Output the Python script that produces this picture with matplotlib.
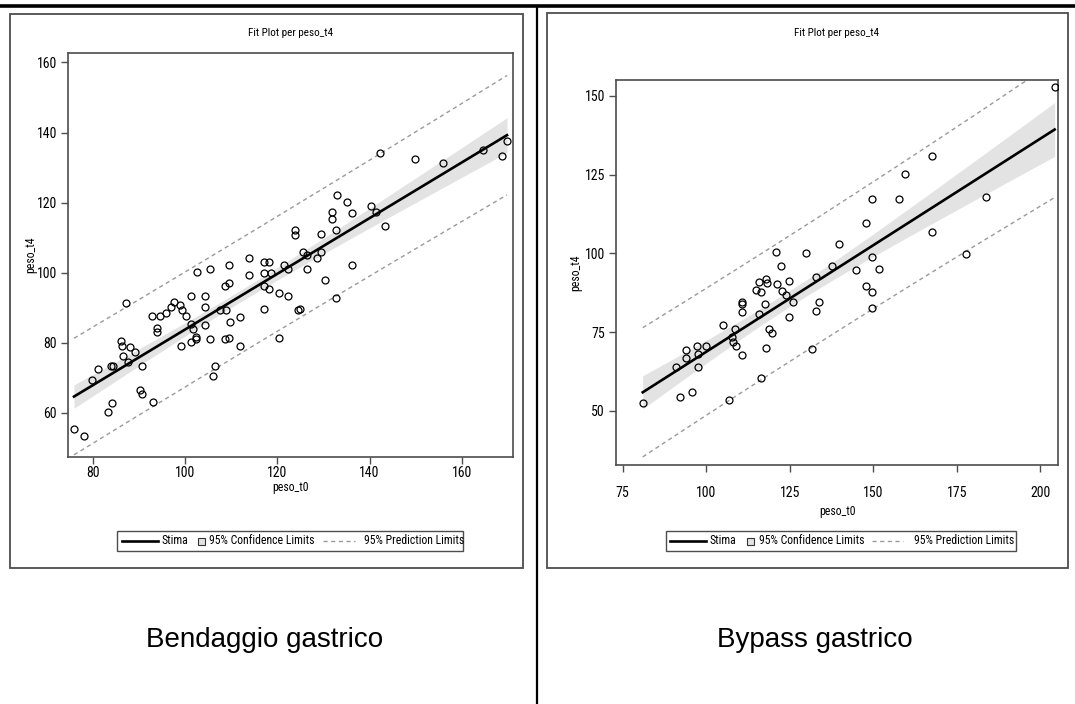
import numpy as np
import matplotlib
matplotlib.use("Agg")
import matplotlib.pyplot as plt
from matplotlib.lines import Line2D
from matplotlib.patches import Rectangle

plt.rcParams['font.family'] = ['Roboto Condensed', 'Liberation Sans', 'DejaVu Sans']

# --- Bendaggio gastrico: peso a t0 e a t4 ---
band_t0 = [75.9, 78.0, 79.7, 81.1, 83.2, 84.1, 84.0, 84.4, 87.1, 86.2, 86.4, 86.5, 87.6, 88.1,
           89.2, 90.7, 90.3, 90.6, 93.0, 92.8, 93.8, 94.0, 94.5, 95.9, 96.9, 97.6, 98.8, 99.4,
           100.1, 99.0, 101.3, 101.3, 101.7, 101.3, 102.3, 102.4, 102.5, 104.4, 104.4, 104.4,
           105.5, 105.5, 106.1, 106.5, 107.6, 108.6, 108.9, 109.6, 109.6, 109.7, 108.6, 109.6,
           111.8, 111.8, 113.8, 113.8, 117.1, 118.2, 117.1, 117.1, 118.6, 118.1, 117.1, 120.3,
           120.3, 121.4, 122.4, 122.4, 124.4, 124.9, 125.5, 126.5, 126.5, 128.5, 129.5, 130.3,
           132.8, 136.1, 129.4, 132.8, 131.8, 131.9, 133.0, 135.1, 136.1, 140.3, 141.4, 143.4,
           142.3, 149.8, 156.0, 164.6, 168.7, 169.8, 123.8, 123.8]
band_t4 = [55.3, 53.3, 69.3, 72.4, 60.2, 62.9, 73.3, 73.3, 91.4, 80.4, 79.1, 76.3, 74.4, 78.9,
           77.3, 73.3, 66.6, 65.3, 63.1, 87.6, 84.2, 83.1, 87.6, 88.5, 90.3, 91.7, 90.7, 89.4,
           87.6, 79.1, 93.3, 85.3, 83.9, 80.2, 81.1, 81.7, 100.1, 93.3, 90.3, 85.0,
           101.1, 81.0, 70.5, 73.3, 89.3, 96.2, 89.3, 97.1, 102.1, 85.8, 81.0, 81.3,
           87.3, 79.1, 104.1, 99.3, 103.1, 103.1, 99.8, 96.2, 99.8, 95.3, 89.6, 94.3,
           81.3, 102.2, 101.0, 93.3, 89.4, 89.6, 106.0, 105.1, 101.1, 104.1, 106.0, 97.9,
           92.7, 102.2, 111.0, 112.2, 115.3, 117.3, 122.2, 120.1, 117.1, 119.1, 117.3, 113.4,
           134.2, 132.4, 131.3, 135.1, 133.3, 137.5, 112.2, 110.8]

# --- Bypass gastrico: peso a t0 e a t4 ---
bypass_t0 = [81.0, 92.1, 95.8, 91.1, 93.9, 93.9, 97.3, 97.6, 97.6, 100.0, 105.1, 106.8, 107.7,
             107.9, 108.9, 108.6, 110.7, 110.8, 110.8, 110.8, 114.8, 115.8, 116.5, 115.8, 116.5,
             117.6, 118.0, 118.2, 117.9, 118.9, 119.8, 120.8, 121.3, 122.4, 122.7, 123.8, 124.9,
             124.9, 125.9, 129.8, 131.8, 132.8, 132.8, 133.7, 137.7, 144.7, 149.6, 151.8, 147.7,
             149.6, 149.6, 177.7, 167.6, 159.6, 149.6, 157.7, 147.7, 139.8, 167.6, 183.6, 204.3]
bypass_t4 = [52.4, 54.5, 56.0, 63.8, 69.3, 66.9, 70.7, 68.1, 64.0, 70.7, 77.3, 53.5, 73.4,
             71.9, 70.6, 75.9, 67.6, 84.6, 83.8, 81.3, 88.5, 90.8, 87.7, 80.6, 60.5,
             83.8, 91.8, 90.7, 70.0, 76.0, 74.7, 100.4, 90.4, 96.0, 88.1, 86.8, 91.1,
             79.8, 84.5, 100.2, 69.5, 92.6, 81.7, 84.5, 96.0, 94.8, 98.8, 95.1, 89.7,
             87.8, 82.6, 99.8, 130.9, 125.1, 117.1, 117.1, 109.7, 102.9, 106.9, 117.9, 152.8]

panel_names = ["Bendaggio gastrico", "Bypass gastrico"]
title_text = "Fit Plot per peso_t4"
x_name, y_name = "peso_t0", "peso_t4"
legend_labels = ["Stima", "95% Confidence Limits", "95% Prediction Limits"]
band_xticks, band_yticks = [80, 100, 120, 140, 160], [60, 80, 100, 120, 140, 160]
bypass_xticks, bypass_yticks = [75, 100, 125, 150, 175, 200], [50, 75, 100, 125, 150]

T975 = 1.99  # quantile t di Student al 97.5%


def fit_bands(x, y):
    x = np.asarray(x, float)
    y = np.asarray(y, float)
    n = len(x)
    b1, b0 = np.polyfit(x, y, 1)
    resid = y - (b0 + b1 * x)
    s = np.sqrt(np.sum(resid ** 2) / (n - 2))
    xg = np.linspace(x.min(), x.max(), 200)
    yg = b0 + b1 * xg
    sxx = np.sum((x - x.mean()) ** 2)
    se_mean = s * np.sqrt(1 / n + (xg - x.mean()) ** 2 / sxx)
    se_pred = s * np.sqrt(1 + 1 / n + (xg - x.mean()) ** 2 / sxx)
    return xg, yg, T975 * se_mean, T975 * se_pred


W, H = 1075, 704
fig = plt.figure(figsize=(W / 100, H / 100), dpi=100)


def fx(px):
    return px / W


def fy(py):
    return 1 - py / H


FRAME = "#4d4d4d"
BAND = "#e3e3e3"
PRED = "#9a9a9a"
DASH = (0, (3, 2.5))
FS = 8.5


def draw_legend(box, line_x, stima_x, sq_x, ci_x, dash_x, pi_x):
    (bx0, by0, bx1, by1) = box
    yc = fy((by0 + by1) / 2)
    fig.add_artist(Rectangle((fx(bx0), fy(by1)), fx(bx1 - bx0), (by1 - by0) / H,
                             transform=fig.transFigure, fill=False, ec=FRAME, lw=1.0))
    fig.add_artist(Line2D([fx(line_x[0]), fx(line_x[1])], [yc, yc], transform=fig.transFigure,
                          color="black", lw=1.9))
    fig.text(fx(stima_x), yc, legend_labels[0], ha="left", va="center", fontsize=FS)
    fig.add_artist(Rectangle((fx(sq_x), yc - 3.5 / H), fx(7), 7 / H, transform=fig.transFigure,
                             fc=BAND, ec="#333333", lw=0.8))
    fig.text(fx(ci_x), yc, legend_labels[1], ha="left", va="center", fontsize=FS)
    fig.add_artist(Line2D([fx(dash_x[0]), fx(dash_x[1])], [yc, yc], transform=fig.transFigure,
                          color=PRED, lw=1.0, ls=DASH))
    fig.text(fx(pi_x), yc, legend_labels[2], ha="left", va="center", fontsize=FS)


def draw_panel(x, y, rect, xlim, ylim, xticks, yticks, frame, xpad, ylab_x, xlab_y, name_xy):
    x0, y0, x1, y1 = rect
    ax = fig.add_axes([fx(x0), fy(y1), fx(x1 - x0), (y1 - y0) / H])
    xg, yg, ci, pi = fit_bands(x, y)
    ax.fill_between(xg, yg - ci, yg + ci, color=BAND, lw=0, zorder=1)
    ax.plot(xg, yg + pi, color=PRED, lw=1.0, ls=DASH, zorder=2)
    ax.plot(xg, yg - pi, color=PRED, lw=1.0, ls=DASH, zorder=2)
    ax.plot(xg, yg, color="black", lw=1.9, zorder=3)
    ax.plot(x, y, ls="none", marker="o", ms=5.0, mfc="none", mec="black", mew=0.9, zorder=4)
    ax.set_xlim(*xlim)
    ax.set_ylim(*ylim)
    ax.set_xticks(xticks)
    ax.set_yticks(yticks)
    ax.tick_params(direction="out", length=5, width=1, color=FRAME, labelsize=10)
    ax.tick_params(axis="x", pad=xpad)
    ax.tick_params(axis="y", pad=3)
    for sp in ax.spines.values():
        sp.set_color(FRAME)
        sp.set_linewidth(1.2)
    ax.set_xlabel(x_name, fontsize=FS)
    ax.set_ylabel(y_name, fontsize=FS)
    ax.xaxis.set_label_coords(0.5, -(xlab_y - y1) / (y1 - y0))
    ax.yaxis.set_label_coords((ylab_x - x0) / (x1 - x0), 0.5)
    ax.xaxis.label.set_va("center")
    ax.yaxis.label.set_va("center")

    fig.text(fx((x0 + x1) / 2), fy(33), title_text, ha="center", va="center", fontsize=8)

    fx0, fy0, fx1, fy1 = frame
    fig.add_artist(Rectangle((fx(fx0), fy(fy1)), fx(fx1 - fx0), (fy1 - fy0) / H,
                             transform=fig.transFigure, fill=False, ec=FRAME, lw=1.3))

    fig.text(fx(name_xy[0]), fy(name_xy[1]), name_xy[2], ha="center", va="center",
             fontsize=20, family=["Liberation Sans", "DejaVu Sans"])
    return ax


draw_panel(band_t0, band_t4, (68, 53, 513, 457), (74.6, 171.1), (47.4, 162.7),
           band_xticks, band_yticks, (10, 14, 523, 568), 1.5, 31, 487,
           (265, 640, panel_names[0]))
draw_legend((117, 531, 463, 551), (122, 158), 162, 198, 209, (323, 355), 364)

draw_panel(bypass_t0, bypass_t4, (616, 80, 1058, 465), (73.0, 205.3), (32.8, 155.0),
           bypass_xticks, bypass_yticks, (547, 13, 1068, 568), 10, 576, 511,
           (815, 640, panel_names[1]))
draw_legend((666, 531, 1016, 551), (670, 706), 710, 747, 759, (872, 903), 914)

# separatori della tabella
fig.add_artist(Line2D([0, 1], [fy(6), fy(6)], transform=fig.transFigure, color="black", lw=2.6))
fig.add_artist(Line2D([fx(537), fx(537)], [fy(6), 0], transform=fig.transFigure, color="black", lw=1.6))

fig.savefig("out.png", dpi=100)
